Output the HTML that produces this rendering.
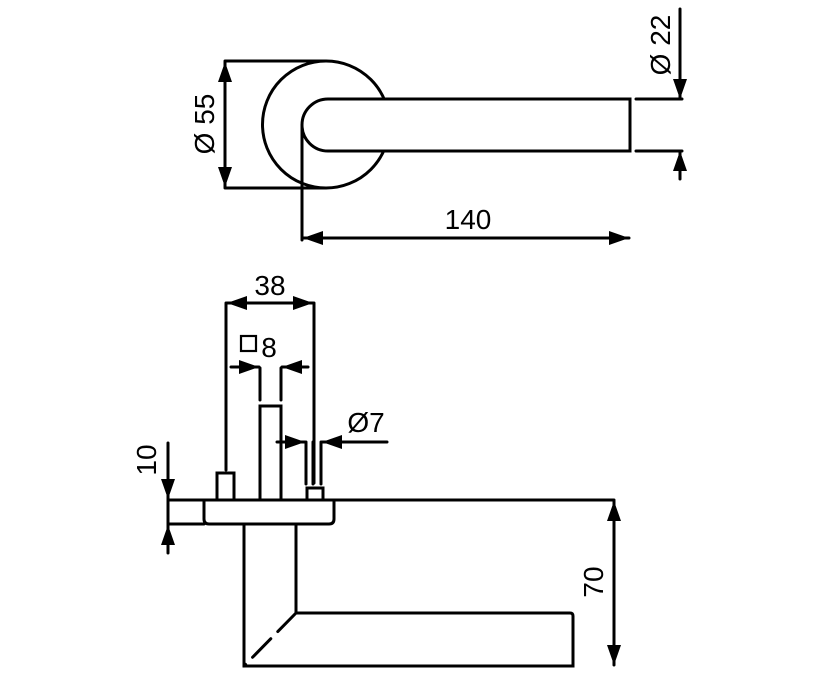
<!DOCTYPE html>
<html><head><meta charset="utf-8"><style>html,body{margin:0;padding:0;background:#fff}svg{display:block}</style></head>
<body>
<svg width="816" height="682" viewBox="0 0 816 682" xmlns="http://www.w3.org/2000/svg">
<defs>
<marker id="a" markerWidth="20" markerHeight="14" refX="20" refY="7" orient="auto" markerUnits="userSpaceOnUse"><path d="M0,0 L20,7 L0,14 Z" fill="#000"/></marker>
</defs>
<g fill="none" stroke="#000" stroke-width="3" stroke-linecap="round">
<!-- top view -->
<circle cx="326" cy="124.5" r="63.5"/>
<path d="M328,99 H630 V151 H328 A26,26 0 0 1 328,99" fill="#fff"/>
<line x1="302" y1="125" x2="302" y2="240"/>
<line x1="225" y1="61" x2="325" y2="61"/>
<line x1="225" y1="188" x2="325" y2="188"/>
<line x1="225" y1="124" x2="225" y2="62" marker-end="url(#a)"/>
<line x1="225" y1="124" x2="225" y2="187" marker-end="url(#a)"/>
<line x1="466" y1="238" x2="303" y2="238" marker-end="url(#a)"/>
<line x1="466" y1="238" x2="629" y2="238" marker-end="url(#a)"/>
<line x1="636" y1="99" x2="682" y2="99"/>
<line x1="636" y1="151" x2="682" y2="151"/>
<line x1="680" y1="9" x2="680" y2="99" marker-end="url(#a)"/>
<line x1="680" y1="179" x2="680" y2="151" marker-end="url(#a)"/>
<!-- side view -->
<line x1="226" y1="303" x2="226" y2="470"/>
<line x1="314" y1="303" x2="314" y2="483"/>
<line x1="270" y1="303" x2="227" y2="303" marker-end="url(#a)"/>
<line x1="270" y1="303" x2="313" y2="303" marker-end="url(#a)"/>
<path d="M204,500 H334 V519 Q334,524 329,524 H209 Q204,524 204,519 Z"/>
<rect x="217" y="473" width="17" height="27"/>
<rect x="260" y="406" width="21" height="94"/>
<line x1="260" y1="368" x2="260" y2="400"/>
<line x1="281" y1="368" x2="281" y2="400"/>
<line x1="231" y1="367" x2="259" y2="367" marker-end="url(#a)"/>
<line x1="308" y1="367" x2="282" y2="367" marker-end="url(#a)"/>
<rect x="307" y="488" width="16" height="12"/>
<line x1="306" y1="442" x2="306" y2="484"/>
<line x1="313" y1="442" x2="313" y2="484"/>
<line x1="321" y1="442" x2="321" y2="484"/>
<line x1="277" y1="442" x2="305" y2="442" marker-end="url(#a)"/>
<line x1="387" y1="442" x2="322" y2="442" marker-end="url(#a)"/>
<path d="M204,500 H168 V524 H204"/>
<line x1="334" y1="500" x2="614" y2="500"/>
<line x1="168" y1="443" x2="168" y2="499" marker-end="url(#a)"/>
<line x1="168" y1="553" x2="168" y2="525" marker-end="url(#a)"/>
<path d="M244,524 V666 H573 V616 Q573,613 570,613 H296 V524"/>
<line x1="296" y1="613" x2="244" y2="666" stroke-dasharray="26,10"/>
<line x1="614" y1="583" x2="614" y2="501" marker-end="url(#a)"/>
<line x1="614" y1="583" x2="614" y2="665" marker-end="url(#a)"/>
<rect x="241" y="336" width="15" height="15" stroke-width="2.2"/>
</g>
<g font-family="Liberation Sans, sans-serif" font-size="28" fill="#000" text-anchor="middle">
<text x="214" y="124" transform="rotate(-90 214 124)">Ø 55</text>
<text x="670" y="45" transform="rotate(-90 670 45)">Ø 22</text>
<text x="468" y="229">140</text>
<text x="270" y="295">38</text>
<text x="269" y="357">8</text>
<text x="366" y="432">Ø7</text>
<text x="156" y="460" transform="rotate(-90 156 460)">10</text>
<text x="603" y="582" transform="rotate(-90 603 582)">70</text>
</g>
</svg>
</body></html>
